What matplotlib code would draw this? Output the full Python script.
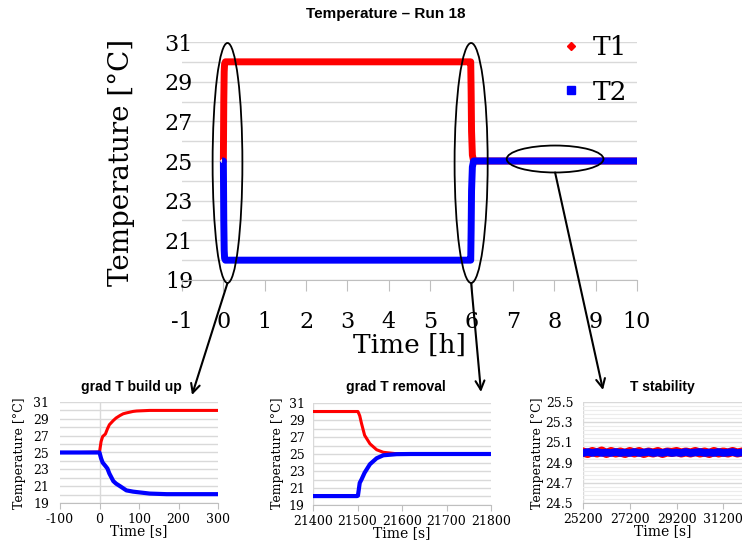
import numpy as np
import matplotlib
matplotlib.use("Agg")
import matplotlib.pyplot as plt
from matplotlib.patches import Ellipse, ConnectionPatch
from matplotlib.lines import Line2D
from matplotlib.ticker import FormatStrFormatter

plt.rcParams['axes.unicode_minus'] = False

# main chart, time in hours
main_time_h = [-0.03, 0.0, 0.01, 0.02, 0.03, 0.05, 5.97, 5.98, 5.99, 6.0, 6.02, 6.05, 10.0]
main_t1 = [25.0, 25.0, 28.0, 29.5, 29.9, 30.0, 30.0, 30.0, 28.5, 26.5, 25.3, 25.0, 25.0]
main_t2 = [25.0, 25.0, 22.0, 20.5, 20.1, 20.0, 20.0, 20.0, 21.5, 23.5, 24.7, 25.0, 25.0]
main_yticks = [19, 21, 23, 25, 27, 29, 31]

# grad T build up, time in s
build_time = [-100, -50, 0, 4, 8, 15, 20, 25, 35, 42, 52, 60, 68, 85, 94, 127, 170, 250, 300]
build_t1 = [25.0, 25.0, 25.05, 26.3, 26.9, 27.2, 27.8, 28.3, 28.8, 29.1, 29.4, 29.6, 29.7, 29.88, 29.93, 30.0, 30.0, 30.0, 30.0]
build_t2 = [25.0, 25.0, 25.0, 24.3, 23.8, 23.4, 23.1, 22.5, 21.6, 21.3, 21.0, 20.75, 20.5, 20.35, 20.3, 20.12, 20.05, 20.05, 20.05]

# grad T removal, time in s
rem_time = [21400, 21450, 21499, 21501, 21505, 21509, 21516, 21528, 21543, 21558, 21588, 21620, 21700, 21800]
rem_t1 = [30.0, 30.0, 30.0, 30.0, 29.5, 28.6, 27.2, 26.2, 25.5, 25.2, 25.03, 25.0, 25.0, 25.0]
rem_t2 = [20.05, 20.05, 20.05, 20.1, 21.6, 22.0, 22.8, 23.8, 24.5, 24.85, 24.98, 25.0, 25.0, 25.0]

# T stability, time in s
stab_time = [25200, 25400, 25600, 25800, 26000, 26200, 26400, 26600, 26800, 27000,
             27200, 27400, 27600, 27800, 28000, 28200, 28400, 28600, 28800, 29000,
             29200, 29400, 29600, 29800, 30000, 30200, 30400, 30600, 30800, 31000,
             31200, 31400, 31600, 31800, 32000]
stab_t1 = [25.005, 24.99, 25.01, 24.995, 25.015, 24.99, 25.01, 24.995, 25.005, 24.99,
           25.01, 24.995, 25.01, 24.99, 25.005, 24.995, 25.01, 24.99, 25.005, 25.0,
           25.01, 24.995, 25.005, 24.995, 25.01, 24.995, 25.005, 24.99, 25.01, 24.995,
           25.005, 24.995, 25.01, 24.995, 25.005]
stab_t2 = [24.995, 25.005, 24.995, 25.005, 24.995, 25.0, 24.995, 25.005, 24.995, 25.0,
           24.995, 25.005, 24.995, 25.0, 25.005, 24.995, 25.0, 24.995, 25.005, 24.995,
           25.0, 24.995, 25.005, 24.995, 25.0, 25.005, 24.995, 25.0, 24.995, 25.005,
           24.995, 25.0, 25.005, 24.995, 25.0]
stab_yticks = [24.5, 24.7, 24.9, 25.1, 25.3, 25.5]

RED = '#ff0000'
BLUE = '#0000ff'
GRID = '#d9d9d9'
AXC = '#bfbfbf'
SERIF = 'DejaVu Serif'
SANS = 'Liberation Sans'

fig = plt.figure(figsize=(7.42, 5.43), dpi=100)


def style_axes(ax, tick_size, tick_len, xpad, ypad):
    for s in ['top', 'right', 'left']:
        ax.spines[s].set_visible(False)
    ax.spines['bottom'].set_color(AXC)
    ax.tick_params(axis='y', which='both', length=0, labelsize=tick_size, pad=ypad)
    ax.tick_params(axis='x', length=tick_len, color=AXC, labelsize=tick_size, pad=xpad)
    for lab in ax.get_xticklabels() + ax.get_yticklabels():
        lab.set_fontfamily(SERIF)
    ax.grid(axis='y', which='both', color=GRID, lw=1.0)
    ax.set_axisbelow(True)


# ---- main chart
ax = fig.add_axes([182 / 742, 1 - 280 / 543, 455 / 742, 238 / 543])
ax.plot(main_time_h, main_t1, color=RED, lw=5, solid_capstyle='butt')
ax.plot(main_time_h, main_t2, color=BLUE, lw=5, solid_capstyle='butt')
ax.set_xlim(-1, 10)
ax.set_ylim(19, 31)
ax.set_xticks(range(-1, 11))
ax.set_yticks(main_yticks)
ax.set_yticks(range(19, 32), minor=True)
style_axes(ax, 16, 8, 14, -8)
ax.set_xlabel('Time [h]', fontfamily=SERIF, fontsize=19, labelpad=0)

handles = [Line2D([], [], color=RED, marker='D', ls='none', ms=4),
           Line2D([], [], color=BLUE, marker='s', ls='none', ms=6)]
leg = ax.legend(handles, ['T1', 'T2'], loc='upper right', bbox_to_anchor=(1.03, 1.13),
                frameon=False, prop={'family': SERIF, 'size': 19},
                labelspacing=0.75, handletextpad=0.2, handlelength=1.2)

# ellipses around the three regions
ell_cx = [0.1, 5.99, 8.02]
ell_cy = [24.9, 24.9, 25.1]
ell_w = [0.72, 0.8, 2.34]
ell_h = [12.1, 12.1, 1.36]
for cx, cy, w, h in zip(ell_cx, ell_cy, ell_w, ell_h):
    ax.add_patch(Ellipse((cx, cy), w, h, fill=False, ec='black', lw=1.3, clip_on=False, zorder=5))

fig.text(386 / 742, 1 - 14 / 543, 'Temperature – Run 18', ha='center', va='center',
         fontfamily=SANS, fontweight='bold', fontsize=11)
fig.text(121 / 742, 1 - 162 / 543, 'Temperature [°C]', rotation=90, ha='center', va='center',
         fontfamily=SERIF, fontsize=20)

# ---- sub charts
sub_pos = [[60 / 742, 1 - 503 / 543, 158 / 742, 101 / 543],
           [313 / 742, 1 - 505 / 543, 178 / 742, 102 / 543],
           [583 / 742, 1 - 503 / 543, 159 / 742, 101 / 543]]
sub_titles = ['grad T build up', 'grad T removal', 'T stability']
title_x = [131, 396, 662]
ylabel_x = [20, 278, 538]
ypads = [8, 6, 7]

a1 = fig.add_axes(sub_pos[0])
a1.plot(build_time, build_t1, color=RED, lw=2.2)
a1.plot(build_time, build_t2, color=BLUE, lw=3)
a1.set_xlim(-100, 300)
a1.set_xticks([-100, 0, 100, 200, 300])
a1.axvline(0, color=GRID, lw=1, zorder=0)

a2 = fig.add_axes(sub_pos[1])
a2.plot(rem_time, rem_t1, color=RED, lw=2.2)
a2.plot(rem_time, rem_t2, color=BLUE, lw=3)
a2.set_xlim(21400, 21800)
a2.set_xticks([21400, 21500, 21600, 21700, 21800])
a2.axvline(21400, color=GRID, lw=1, zorder=0)

for a in (a1, a2):
    a.set_ylim(19, 31)
    a.set_yticks(main_yticks)
    a.set_yticks(range(19, 32), minor=True)

a3 = fig.add_axes(sub_pos[2])
a3.plot(stab_time, stab_t1, color=RED, lw=6.5)
a3.plot(stab_time, stab_t2, color=BLUE, lw=5.5)
a3.set_xlim(25200, 32000)
a3.set_ylim(24.5, 25.5)
a3.set_xticks([25200, 27200, 29200, 31200])
a3.set_yticks(stab_yticks)
a3.set_yticks([24.5 + 0.04 * i for i in range(26)], minor=True)
a3.yaxis.set_major_formatter(FormatStrFormatter('%.1f'))
a3.axvline(25200, color=GRID, lw=1, zorder=0)

for a, t, tx, lx, yp in zip((a1, a2, a3), sub_titles, title_x, ylabel_x, ypads):
    style_axes(a, 9, 4, 3, yp)
    a.set_xlabel('Time [s]', fontfamily=SERIF, fontsize=10, labelpad=-1)
    fig.text(lx / 742, 1 - 453 / 543, 'Temperature [°C]', rotation=90, ha='center', va='center',
             fontfamily=SERIF, fontsize=9)
    fig.text(tx / 742, 1 - 387 / 543, t, ha='center', va='center',
             fontfamily=SANS, fontweight='bold', fontsize=10)
a3.grid(axis='y', which='minor', color='#ececec', lw=0.8)
a3.grid(axis='y', which='major', color=GRID, lw=1.0)

# ---- arrows from ellipses down to the sub charts
arrow_end = [(192 / 742, 1 - 395 / 543), (481 / 742, 1 - 392 / 543), (603 / 742, 1 - 390 / 543)]
for cx, cy, h, end in zip(ell_cx, ell_cy, ell_h, arrow_end):
    con = ConnectionPatch(xyA=(cx, cy - h / 2), coordsA=ax.transData,
                          xyB=end, coordsB=fig.transFigure,
                          arrowstyle='->', mutation_scale=16, color='black', lw=1.5)
    fig.add_artist(con)

fig.savefig('out.png', dpi=100)
